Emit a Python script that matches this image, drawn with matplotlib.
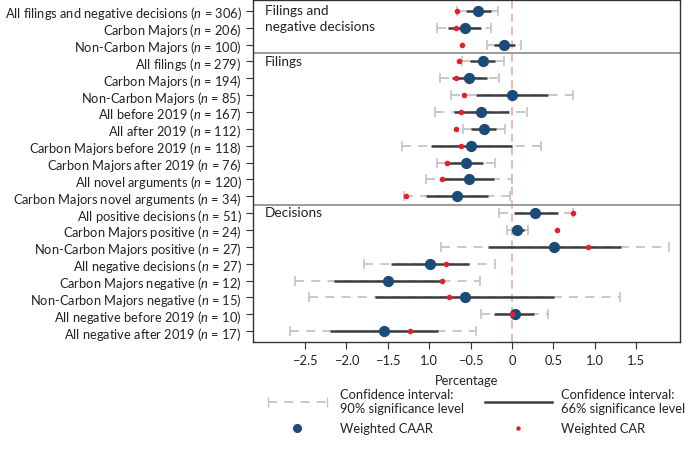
import numpy as np
import matplotlib
matplotlib.use("Agg")
import matplotlib.pyplot as plt
from matplotlib.lines import Line2D
from matplotlib.legend_handler import HandlerLine2D

plt.rcParams['font.family'] = ['Lato', 'DejaVu Sans']
plt.rcParams['mathtext.fontset'] = 'custom'
plt.rcParams['mathtext.rm'] = 'Lato'
plt.rcParams['mathtext.it'] = 'Lato:italic'

# row labels (top to bottom)
names = ["All filings and negative decisions", "Carbon Majors", "Non-Carbon Majors",
         "All filings", "Carbon Majors", "Non-Carbon Majors", "All before 2019",
         "All after 2019", "Carbon Majors before 2019", "Carbon Majors after 2019",
         "All novel arguments", "Carbon Majors novel arguments",
         "All positive decisions", "Carbon Majors positive", "Non-Carbon Majors positive",
         "All negative decisions", "Carbon Majors negative", "Non-Carbon Majors negative",
         "All negative before 2019", "All negative after 2019"]
n_obs = [306, 206, 100, 279, 194, 85, 167, 112, 118, 76, 120, 34,
         51, 24, 27, 27, 12, 15, 10, 17]

caar = [-0.41, -0.57, -0.10, -0.35, -0.52, 0.0, -0.37, -0.34, -0.50, -0.55, -0.52, -0.66,
        0.28, 0.065, 0.51, -0.99, -1.50, -0.57, 0.03, -1.55]
car = [-0.66, -0.68, -0.60, -0.64, -0.68, -0.58, -0.62, -0.68, -0.62, -0.78, -0.85, -1.28,
       0.74, 0.54, 0.92, -0.80, -0.85, -0.76, 0.0, -1.23]
lo66 = [-0.55, -0.77, -0.22, -0.51, -0.73, -0.43, -0.70, -0.50, -0.98, -0.76, -0.83, -1.04,
        0.02, 0.01, -0.29, -1.46, -2.15, -1.66, -0.22, -2.20]
hi66 = [-0.26, -0.37, 0.03, -0.20, -0.30, 0.43, -0.04, -0.19, 0.0, -0.35, -0.22, -0.29,
        0.55, 0.15, 1.32, -0.52, -0.85, 0.51, 0.27, -0.89]
lo90 = [-0.67, -0.90, -0.30, -0.60, -0.87, -0.74, -0.93, -0.59, -1.33, -0.90, -1.04, -1.30,
        -0.16, -0.06, -0.86, -1.79, -2.62, -2.45, -0.38, -2.68]
hi90 = [-0.17, -0.25, 0.11, -0.10, -0.16, 0.74, 0.18, -0.09, 0.35, -0.20, 0.0, -0.02,
        0.74, 0.19, 1.89, -0.20, -0.39, 1.30, 0.44, -0.43]

xticks = [-2.5, -2.0, -1.5, -1.0, -0.5, 0, 0.5, 1.0, 1.5]
xticklabels = ["\u22122.5", "\u22122.0", "\u22121.5", "1.0", "\u22120.5", "0", "0.5", "1.0", "1.5"]

sections = ["Filings and\nnegative decisions", "Filings", "Decisions"]
section_start = [0, 3, 12]

c90 = "#c4c4c4"
c66 = "#3d3d3d"
c_caar = "#1b4b78"
c_car = "#e3212d"
fs = 9.3

fig = plt.figure(figsize=(6.85, 4.52), dpi=100)
ax = fig.add_axes([0.369, 0.241, 0.624, 0.757])

y = np.arange(len(names))

ax.axvline(0, color="#f2a6ae", lw=1.2, ls=(0, (5, 3)), zorder=1)

ax.hlines(y, lo90, hi90, color=c90, lw=1.3, linestyles=(0, (5, 4)), zorder=2)
ax.scatter(lo90, y, marker="|", s=45, color=c90, lw=1.2, zorder=2)
ax.scatter(hi90, y, marker="|", s=45, color=c90, lw=1.2, zorder=2)
ax.hlines(y, lo66, hi66, color=c66, lw=1.8, zorder=3)
ax.scatter(caar, y, s=50, color=c_caar, zorder=4)
ax.scatter(car, y, s=9, color=c_car, zorder=5)

for s in section_start[1:]:
    ax.axhline(s - 0.5, color="#8a8a8a", lw=1.2)
for lab, s in zip(sections, section_start):
    ax.text(0.028, s - 0.4, lab, transform=ax.get_yaxis_transform(), va="top",
            ha="left", fontsize=9.8, color="#222222", linespacing=1.4)

ax.set_yticks(y)
ax.set_yticklabels([f"{a} ($n$ = {b})" for a, b in zip(names, n_obs)])
ax.set_ylim(len(names) - 0.35, -0.65)
ax.set_xlim(-3.13, 2.03)
ax.set_xticks(xticks)
ax.set_xticklabels(xticklabels)
ax.tick_params(axis="both", labelsize=fs, color="#333333", labelcolor="#222222",
               length=5, width=0.8)
ax.tick_params(axis="y", pad=3)
ax.set_xlabel("Percentage", fontsize=fs, color="#222222", labelpad=6)
for sp in ax.spines.values():
    sp.set_color("#333333")
    sp.set_linewidth(1.0)

h90 = Line2D([], [], color=c90, lw=1.3, ls=(0, (5, 4)), marker="|", markersize=7)
h66 = Line2D([], [], color=c66, lw=1.8)
hcaar = Line2D([], [], color=c_caar, lw=0, marker="o", markersize=5.5)
hcar = Line2D([], [], color=c_car, lw=0, marker="o", markersize=2.2)
fig.legend([h90, hcaar, h66, hcar],
           ["Confidence interval:\n90% significance level", "Weighted CAAR",
            "Confidence interval:\n66% significance level", "Weighted CAR"],
           handler_map={h90: HandlerLine2D(numpoints=2)},
           ncol=2, loc="upper left", bbox_to_anchor=(0.368, 0.164), frameon=False,
           fontsize=fs, handlelength=5.2, columnspacing=1.6, labelspacing=0.6,
           handletextpad=0.7, labelcolor="#222222")

fig.savefig("out.png", dpi=100)
